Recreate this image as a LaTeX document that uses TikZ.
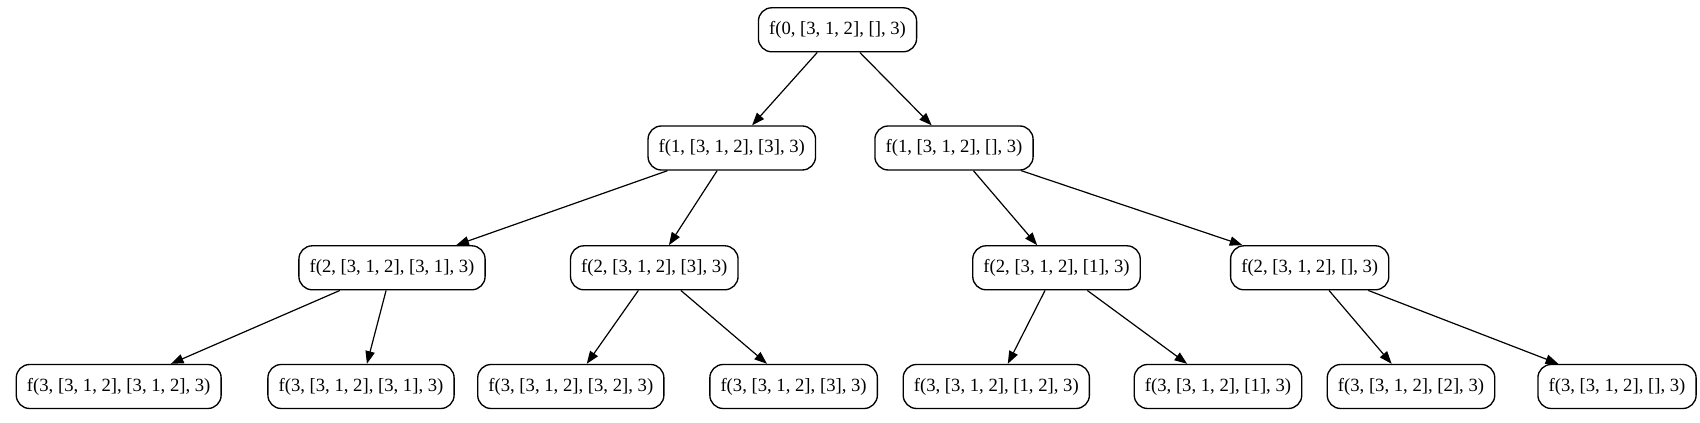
\documentclass[tikz,border=0pt]{standalone}
\usepackage{fontspec}
\setmainfont{Liberation Serif}
\usetikzlibrary{arrows.meta}
\tikzset{
  callbox/.style={
    draw=black,
    rounded corners=10pt,
    line width=1pt,
    minimum height=33pt,
    inner xsep=8pt,
    inner ysep=2pt,
    font=\fontsize{14}{17}\selectfont
  },
  callarrow/.style={-{Triangle[length=9.5pt,width=7pt]}, line width=0.9pt, draw=black}
}

\begin{document}
\begin{tikzpicture}[x=0.75pt, y=-0.75pt]
    \useasboundingbox (0,0) rectangle (1700,423);

    \node[callbox] (root) at (837.5,29.8) {f(0, [3, 1, 2], [], 3)};

    \node[callbox] (take1) at (731.8,148) {f(1, [3, 1, 2], [3], 3)};
    \node[callbox] (skip1) at (954,148) {f(1, [3, 1, 2], [], 3)};

    \node[callbox] (take2a) at (392,267.8) {f(2, [3, 1, 2], [3, 1], 3)};
    \node[callbox] (skip2a) at (654.3,267.8) {f(2, [3, 1, 2], [3], 3)};
    \node[callbox] (take2b) at (1056.5,267.8) {f(2, [3, 1, 2], [1], 3)};
    \node[callbox] (skip2b) at (1309.7,267.8) {f(2, [3, 1, 2], [], 3)};

    \node[callbox] (leafa) at (118.7,386.5) {f(3, [3, 1, 2], [3, 1, 2], 3)};
    \node[callbox] (leafb) at (361,386.5) {f(3, [3, 1, 2], [3, 1], 3)};
    \node[callbox] (leafc) at (570.8,386.5) {f(3, [3, 1, 2], [3, 2], 3)};
    \node[callbox] (leafd) at (793.6,386.5) {f(3, [3, 1, 2], [3], 3)};
    \node[callbox] (leafe) at (996.3,386.5) {f(3, [3, 1, 2], [1, 2], 3)};
    \node[callbox] (leaff) at (1218,386.5) {f(3, [3, 1, 2], [1], 3)};
    \node[callbox] (leafg) at (1411,386.5) {f(3, [3, 1, 2], [2], 3)};
    \node[callbox] (leafh) at (1617,386.5) {f(3, [3, 1, 2], [], 3)};

    \draw[callarrow] (root) -- (take1);
    \draw[callarrow] (root) -- (skip1);

    \draw[callarrow] (take1) -- (take2a);
    \draw[callarrow] (take1) -- (skip2a);
    \draw[callarrow] (skip1) -- (take2b);
    \draw[callarrow] (skip1) -- (skip2b);

    \draw[callarrow] (take2a) -- (leafa);
    \draw[callarrow] (take2a) -- (leafb);
    \draw[callarrow] (skip2a) -- (leafc);
    \draw[callarrow] (skip2a) -- (leafd);
    \draw[callarrow] (take2b) -- (leafe);
    \draw[callarrow] (take2b) -- (leaff);
    \draw[callarrow] (skip2b) -- (leafg);
    \draw[callarrow] (skip2b) -- (leafh);
  \end{tikzpicture}
\end{document}
